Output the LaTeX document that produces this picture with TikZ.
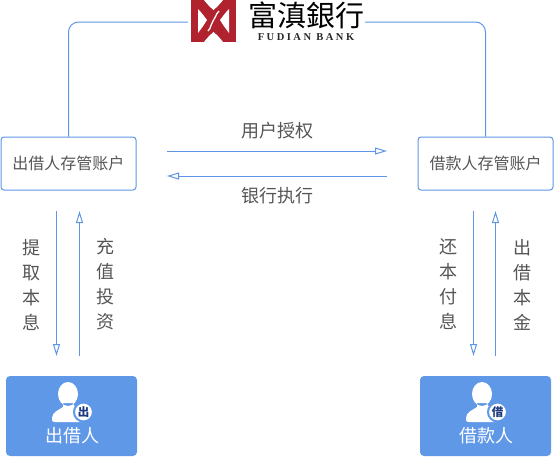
\documentclass[tikz,border=0pt]{standalone}
\usepackage{fontspec}
\setmainfont{Noto Sans CJK SC}
\newfontfamily\logofont{Noto Sans CJK TC}
\newfontfamily\bankfont{Liberation Serif}[LetterSpace=24]
\usetikzlibrary{arrows.meta}
\definecolor{flowblue}{HTML}{5E96E6}
\definecolor{boxblue}{HTML}{6098E8}
\definecolor{bankred}{HTML}{B0232E}
\definecolor{labelgray}{HTML}{555555}
\definecolor{badgeblue}{HTML}{1F3A80}
\tikzset{
  flow/.style={flowblue,line width=1pt,-{Triangle[open,length=12pt,width=7pt]}},
  wire/.style={flowblue,line width=1pt,rounded corners=10pt},
  account/.style={draw=flowblue,line width=1pt,rounded corners=3pt,fill=white,minimum width=135pt,minimum height=53pt,inner sep=0pt,text=labelgray,font=\fontsize{16}{18}\selectfont},
  person/.style={fill=boxblue,rounded corners=4pt,minimum width=131pt,minimum height=80pt,inner sep=0pt},
  caption/.style={text=labelgray,font=\fontsize{18}{25}\selectfont,align=center,inner sep=0pt},
  badge/.style={circle,fill=white,draw=boxblue,line width=2pt,minimum size=19pt,inner sep=0pt,text=badgeblue,font=\fontsize{11.5}{11.5}\selectfont\bfseries},
  who/.style={text=white,font=\fontsize{18}{20}\selectfont,inner sep=0pt}
}
\newcommand{\silhouette}[1]{%
  \fill[white,shift={(#1)}] (0,-16) circle [x radius=10,y radius=12]
    (-5,-7) -- (-5,-3) .. controls (-9,0) and (-16,2) .. (-16,8)
    .. controls (-16,12) and (-15,12) .. (-13,12) -- (14,12) -- (14,-2)
    .. controls (9,0) and (6,-3) .. (5,-7) -- cycle;
}
\begin{document}
\begin{tikzpicture}[x=1pt,y=-1pt]
  \useasboundingbox (0,0) rectangle (554,456);
  % bank logo
  \node[fill=bankred,minimum width=45pt,minimum height=42pt,inner sep=0pt] (logomark) at (213.5,21) {};
  \fill[white] (204,0) .. controls (207,4) and (210,7) .. (213.5,10) .. controls (217,7) and (220,4) .. (223,0) -- cycle;
  \fill[white] (204,42) .. controls (207,38) and (210,35) .. (213.5,32) .. controls (217,35) and (220,38) .. (223,42) -- cycle;
  \fill[white] (198,9) .. controls (201,12) and (204,16) .. (207,20) .. controls (204,25) and (201,29) .. (198,33) -- cycle;
  \fill[white] (229,9) .. controls (226,12) and (223,16) .. (220,20) .. controls (223,25) and (226,29) .. (229,33) -- cycle;
  \draw[white,line width=1.3pt] (208,31) .. controls (212,27) and (210,24) .. (213,21) .. controls (216,18) and (215,15) .. (219,11);
  \node[inner sep=0pt,text=black] (bankname) at (306,15.5) {\logofont\fontsize{29}{29}\selectfont 富滇銀行};
  \node[inner sep=0pt,text=black!85] (banklatin) at (306,37) {\bankfont\bfseries\fontsize{10.5}{10.5}\selectfont FUDIAN BANK};
  % accounts
  \node[account] (lendacct) at (68.5,163.5) {出借人存管账户};
  \node[account] (borrowacct) at (485.5,163.5) {借款人存管账户};
  \coordinate (logoleft) at (188,22);
  \coordinate (logoright) at (365,22);
  \draw[wire] (lendacct.north) -- (lendacct.north |- logoleft) -- (logoleft);
  \draw[wire] (borrowacct.north) -- (borrowacct.north |- logoright) -- (logoright);
  % authorisation
  \coordinate (authstart) at (167,151);
  \coordinate (authend) at (387,151);
  \coordinate (execstart) at (387,176);
  \coordinate (execend) at (167,176);
  \draw[flow] (authstart) -- (authend);
  \draw[flow] (execstart) -- (execend);
  \node[caption] (authtext) at (277,131) {用户授权};
  \node[caption] (exectext) at (277,196) {银行执行};
  % people
  \node[person] (lender) at (71.5,416) {};
  \node[person] (borrower) at (485.5,416) {};
  \silhouette{68,410}
  \silhouette{482,410}
  \node[badge] (lendbadge) at (83.5,412) {出};
  \node[badge] (borrowbadge) at (497.5,412) {借};
  \node[who] (lendname) at (72,436) {出借人};
  \node[who] (borrowname) at (486,436) {借款人};
  % money flows
  \coordinate (la) at (56.5,211);
  \coordinate (lb) at (56.5,356);
  \coordinate (lc) at (79.5,356);
  \coordinate (ld) at (79.5,211);
  \coordinate (ra) at (473.5,211);
  \coordinate (rb) at (473.5,356);
  \coordinate (rc) at (495.5,356);
  \coordinate (rd) at (495.5,211);
  \draw[flow] (la) -- (lb);
  \draw[flow] (lc) -- (ld);
  \draw[flow] (ra) -- (rb);
  \draw[flow] (rc) -- (rd);
  \node[caption] (withdraw) at (31,284.5) {提\\取\\本\\息};
  \node[caption] (invest) at (105,284.5) {充\\值\\投\\资};
  \node[caption] (repay) at (448,284.5) {还\\本\\付\\息};
  \node[caption] (lendout) at (522,284.5) {出\\借\\本\\金};
\end{tikzpicture}
\end{document}
